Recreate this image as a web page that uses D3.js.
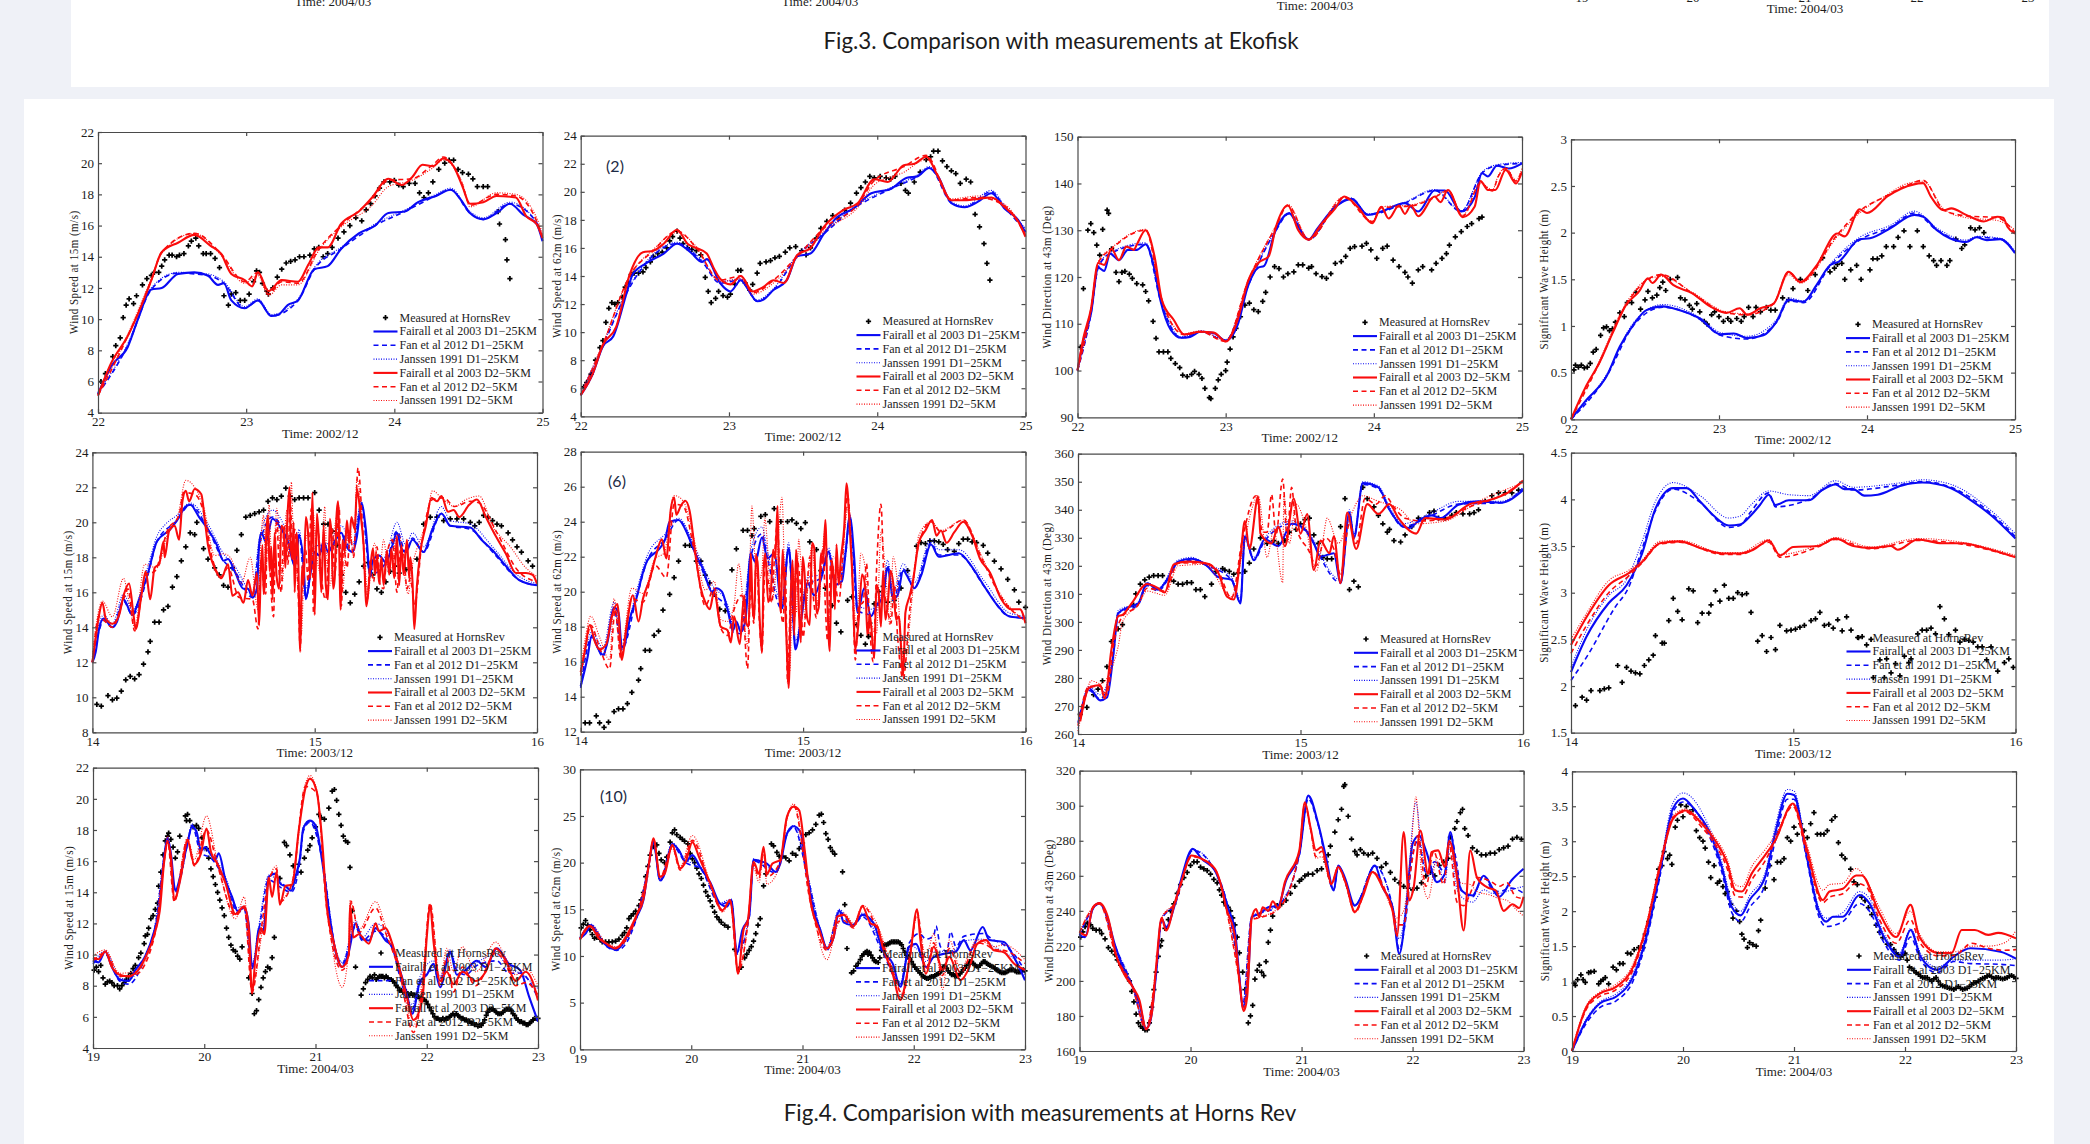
<!DOCTYPE html>
<html>
<head>
<meta charset="utf-8">
<script src="https://cdn.jsdelivr.net/npm/d3@7"></script>
<style>
  body { margin: 0; background: #eff1f7; }
  text { font-family: "Liberation Serif", serif; fill: #1c1c1c; }
  .caption, .tag { font-family: Lato, sans-serif; }
</style>
</head>
<body>
<div id="chart"></div>
<script>
// all series are flat lists: day, value, day, value ...
var legendLabels = ["Measured at HornsRev", "Fairall et al 2003 D1\u221225KM", "Fan et al 2012 D1\u221225KM", "Janssen 1991 D1\u221225KM",
  "Fairall et al 2003 D2\u22125KM", "Fan et al 2012 D2\u22125KM", "Janssen 1991 D2\u22125KM"];

// ---- panel 1, wind speed 15m, 2002/12
var p1Measured = [22.02,6,22.05,6.5,22.1,7.6,22.12,8.3,22.15,8.8,22.17,10.1,22.19,10.9,22.21,11.3,22.24,11,22.26,11.5,22.3,12.2,22.33,12.6,22.36,12.8,22.38,13,22.41,13,22.43,13.4,22.45,13.8,22.48,14.1,22.5,14.1,22.53,14,22.55,14.1,22.58,14.2,22.61,14.7,22.63,15,22.66,15.2,22.68,14.7,22.71,14.2,22.73,14.2,22.76,14.2,22.79,13.9,22.82,13.3,22.85,11.5,22.88,10.9,22.9,11.6,22.93,11.7,22.96,11.2,22.99,11.2,23.02,11.6,23.05,12.4,23.07,13.1,23.09,13,23.11,12.3,23.14,11.8,23.15,11.6,23.18,12,23.21,12.7,23.24,13.2,23.27,13.6,23.3,13.7,23.33,13.8,23.36,14,23.39,14,23.43,14.1,23.46,14.5,23.49,14.6,23.52,14,23.55,14.2,23.58,14.6,23.62,15.2,23.66,15.6,23.7,16,23.74,16.5,23.78,16.3,23.81,17,23.84,17.4,23.87,17.9,23.9,18.4,23.93,18.8,23.97,18.8,24,18.9,24.03,18.6,24.06,18.5,24.1,18.7,24.14,18.7,24.17,18.1,24.2,17.8,24.23,18.1,24.26,18.8,24.3,19.6,24.34,20,24.37,20.2,24.4,20.2,24.43,19.6,24.46,19.4,24.5,19.3,24.53,19,24.56,18.5,24.6,18.5,24.63,18.5,24.7,16.9,24.71,16.1,24.75,15.1,24.76,13.8,24.78,12.6];
var p1BlueSolid = [22,5.2,22.09,7,22.2,8.2,22.27,10,22.36,11.9,22.43,12,22.54,12.9,22.65,13,22.74,12.8,22.81,12.2,22.85,12.3,22.9,11.2,22.99,10.7,23.08,11.2,23.17,10.2,23.22,10.3,23.28,10.9,23.35,11.2,23.46,13.2,23.55,13.4,23.64,14.5,23.76,15.5,23.87,16,23.96,16.8,24.07,16.9,24.16,17.5,24.28,17.9,24.38,18.3,24.46,17.5,24.51,16.8,24.6,16.4,24.69,16.8,24.78,17.4,24.87,16.7,24.96,16.1,25,15];
var p1BlueDash = [22,5.2,22.2,8.3,22.36,11.9,22.54,12.95,22.74,12.8,22.85,12.3,22.99,10.7,23.08,11.2,23.17,10.2,23.35,11.2,23.46,13.2,23.64,14.5,23.87,16,24.07,16.9,24.28,17.9,24.38,18.3,24.51,16.8,24.6,16.4,24.78,17.4,24.96,16.2,25,15.1];
var p1BlueDot = [22,5.3,22.2,8.4,22.36,12,22.54,13,22.74,12.9,22.85,12.4,22.99,10.8,23.08,11.3,23.17,10.3,23.35,11.3,23.46,13.3,23.64,14.6,23.87,16.1,24.07,17,24.28,18,24.38,18.4,24.51,16.9,24.6,16.5,24.78,17.5,24.96,16.2,25,15.1];
var p1RedSolid = [22,5.1,22.09,7.2,22.2,8.9,22.29,10.8,22.36,12.5,22.43,14.3,22.54,14.9,22.65,15.4,22.76,14.7,22.83,14.2,22.9,12.9,22.99,12.5,23.04,12.1,23.08,13,23.15,11.8,23.24,12.5,23.35,12.4,23.42,13.5,23.49,14.6,23.55,14.6,23.64,16.1,23.76,16.9,23.85,17.8,23.96,19,24.05,18.6,24.12,19.1,24.19,19.9,24.26,19.8,24.33,20.3,24.4,19.8,24.46,18.5,24.51,17.4,24.6,17.5,24.69,17.9,24.82,17.8,24.89,16.6,24.96,16.1,25,15.2];
var p1RedDash = [22,5.1,22.2,8.9,22.36,12.5,22.43,14.3,22.65,15.5,22.83,14.2,22.99,12.4,23.08,13,23.15,11.6,23.24,12.4,23.35,12.3,23.49,14.5,23.64,16,23.85,17.7,23.96,18.9,24.12,19,24.26,19.9,24.33,20.4,24.46,18.6,24.51,17.3,24.69,18,24.82,17.9,24.96,16.3,25,15.3];
var p1RedDot = [22,5.2,22.2,9,22.36,12.6,22.43,14.2,22.65,15.5,22.83,14.1,22.99,12.3,23.08,12.8,23.15,11.5,23.24,12.2,23.35,12.2,23.49,14.4,23.64,15.9,23.85,17.3,23.96,18.5,24.12,18.9,24.26,19.7,24.33,20.2,24.46,18.7,24.51,17.2,24.69,18.1,24.82,18,24.96,16.5,25,15.5];

// ---- panel 2, wind speed 62m, 2002/12
var p2Measured = [22.02,6.1,22.04,6.4,22.07,7,22.1,8,22.13,8.9,22.15,9.4,22.17,10.7,22.19,11.7,22.21,12.1,22.23,12,22.25,12.1,22.28,12.5,22.3,13.2,22.32,13.5,22.34,14.1,22.36,14.2,22.39,14.2,22.42,14.3,22.44,14.6,22.47,15,22.49,15.4,22.52,15.6,22.55,15.7,22.58,16,22.6,16.5,22.62,16.8,22.65,17.2,22.67,16.7,22.69,16.3,22.72,16,22.75,15.9,22.78,15.8,22.81,15.5,22.84,13.9,22.86,12.9,22.88,12.1,22.91,12.4,22.93,12.9,22.96,12.6,22.99,12.5,23.01,12.7,23.04,13.4,23.06,14.4,23.08,14.4,23.11,13.5,23.14,13,23.16,13.4,23.19,14.2,23.21,14.9,23.25,15,23.28,15.1,23.31,15.3,23.34,15.4,23.38,15.7,23.41,16,23.45,16.1,23.49,15.8,23.52,15.5,23.55,16,23.59,16.7,23.62,17.4,23.66,17.9,23.7,18.3,23.74,18.1,23.78,18.7,23.82,19.2,23.86,19.9,23.89,20.3,23.92,20.7,23.95,21.1,23.98,21,24.02,21.1,24.06,21,24.09,20.9,24.12,21.1,24.16,20.6,24.19,20.1,24.21,19.9,24.25,20.7,24.29,21.4,24.33,22.3,24.36,22.5,24.38,22.9,24.41,22.9,24.44,22.2,24.47,21.8,24.5,21.5,24.53,21.3,24.56,20.6,24.6,20.9,24.63,20.7,24.66,18.4,24.69,17.5,24.72,16.3,24.74,14.9,24.76,13.7];
var p2BlueSolid = [22,5.5,22.08,7,22.15,9,22.22,9.7,22.31,12.8,22.35,14.1,22.44,14.9,22.56,15.6,22.65,16.3,22.74,15.7,22.82,15,22.85,15.2,22.94,13.5,23.01,12.9,23.08,13.7,23.12,13.2,23.19,12.2,23.23,12.3,23.3,13,23.39,13.7,23.46,15.4,23.55,15.6,23.64,17,23.73,18.2,23.84,18.8,23.96,19.9,24.09,20.2,24.2,21,24.27,21.1,24.35,21.7,24.41,21.1,24.5,19.2,24.59,18.9,24.68,19.3,24.77,19.9,24.86,18.8,24.95,18,25,17.1];
var p2BlueDash = [22,5.5,22.15,9,22.31,12.8,22.44,14.9,22.65,16.3,22.82,15,22.94,13.5,23.08,13.7,23.19,12.2,23.3,13,23.46,15.4,23.64,17,23.84,18.8,24.09,20.2,24.27,21.1,24.35,21.7,24.5,19.2,24.59,18.9,24.77,20,24.86,18.9,25,17.2];
var p2BlueDot = [22,5.6,22.15,9.1,22.31,12.9,22.44,15,22.65,16.4,22.82,15.1,22.94,13.6,23.08,13.8,23.19,12.3,23.3,13.1,23.46,15.5,23.64,17.1,23.84,18.9,24.09,20.3,24.27,21.2,24.35,21.8,24.5,19.3,24.59,19,24.77,20.1,24.86,19,25,17.4];
var p2RedSolid = [22,5.5,22.08,7,22.15,9.1,22.24,10.4,22.33,14.1,22.42,15.7,22.49,15.8,22.56,16.3,22.65,17.3,22.72,16.3,22.78,16,22.85,15.6,22.9,14.5,22.94,13.8,23.01,13.4,23.08,14,23.16,12.9,23.23,13.2,23.3,13.7,23.37,13.5,23.46,15.5,23.55,16,23.64,17.5,23.77,18.7,23.87,19.2,23.98,20.9,24.07,20.7,24.18,21.9,24.25,22,24.33,22.5,24.41,21.1,24.5,19.4,24.57,19.4,24.68,19.5,24.77,19.6,24.86,18.9,24.95,17.9,25,16.8];
var p2RedDash = [22,5.5,22.15,9.1,22.33,14,22.49,15.8,22.65,17.2,22.78,16,22.94,13.7,23.08,14,23.16,12.8,23.3,13.7,23.46,15.4,23.64,17.4,23.87,19.1,23.98,20.8,24.18,21.8,24.33,22.6,24.5,19.4,24.68,19.6,24.86,19,25,16.9];
var p2RedDot = [22,5.6,22.15,9.2,22.33,14,22.49,15.9,22.65,17.1,22.78,16.1,22.94,13.6,23.08,13.8,23.16,12.7,23.3,13.5,23.46,15.3,23.64,17.2,23.87,18.9,23.98,20.5,24.18,21.4,24.33,22.3,24.5,19.5,24.68,19.7,24.86,19.1,25,17];

// ---- panel 3, wind direction 43m, 2002/12
var p3Measured = [22.02,105,22.04,117.5,22.07,130,22.09,131.4,22.11,129.5,22.13,126.8,22.15,124.7,22.17,130.2,22.2,134.3,22.21,133.6,22.23,126,22.26,121,22.28,119,22.3,121,22.32,121.2,22.35,120.6,22.37,119.7,22.4,118.6,22.44,118.3,22.46,116.9,22.48,114.9,22.51,110.5,22.53,106.9,22.55,104,22.58,104,22.61,104,22.63,102.6,22.66,101.5,22.69,100.6,22.71,99,22.74,98.7,22.77,99.2,22.79,99.8,22.82,99.2,22.84,98.3,22.86,96.2,22.89,94.2,22.9,94,22.93,96.2,22.95,98,22.97,99.2,23,100,23.01,101.8,23.03,104.6,23.05,107.2,23.07,109,23.1,111.5,23.13,114,23.16,114.4,23.19,113,23.22,112.6,23.25,114.8,23.27,116.7,23.3,120,23.33,122.2,23.36,121.8,23.39,120,23.42,120.7,23.46,121.1,23.49,122.6,23.52,122.6,23.56,121.9,23.58,122.2,23.61,120.7,23.65,120.1,23.68,119.7,23.71,120.7,23.74,122.9,23.78,123.3,23.81,124.4,23.84,126.1,23.87,126.5,23.92,126.6,23.95,127.2,23.98,125.8,24.02,124,24.06,126.1,24.09,126.6,24.13,123.6,24.17,122.2,24.21,121,24.23,120,24.26,118.7,24.3,121.5,24.33,122.2,24.39,121.5,24.42,122.9,24.46,124,24.49,125,24.51,126.8,24.55,128.6,24.59,129.7,24.63,130.8,24.66,131.4,24.71,132.5,24.73,132.8];
var p3BlueSolid = [22,100,22.04,106.5,22.09,112,22.14,122,22.18,121.3,22.22,125,22.28,123.6,22.34,125.8,22.4,125.8,22.46,127,22.51,123,22.56,115,22.63,108.7,22.7,107,22.76,107.2,22.83,108.3,22.92,108,23,106.4,23.08,109.7,23.15,118,23.22,122,23.26,122.4,23.33,129.4,23.43,133.6,23.49,130.7,23.56,128,23.62,130.4,23.74,135,23.85,136.7,23.96,133.3,24.05,134,24.21,135.8,24.3,134,24.41,138.5,24.48,138.5,24.59,134,24.68,137,24.73,142.2,24.77,141.5,24.83,143.8,24.91,143.2,25,144.3];
var p3BlueDash = [22,100,22.09,112,22.14,122,22.22,125,22.46,127,22.56,115,22.7,107,22.83,108.3,23,106.4,23.15,118,23.33,129.4,23.43,133.6,23.56,128,23.74,135,23.85,136.7,23.96,133.3,24.21,135.8,24.41,138.5,24.59,134,24.73,142.2,24.83,143.8,25,144.3];
var p3BlueDot = [22,100.2,22.09,112.2,22.14,122.2,22.22,125.2,22.46,127.3,22.56,115.3,22.7,107.2,22.83,108.5,23,106.6,23.15,118.2,23.33,129.6,23.43,133.8,23.56,128.2,23.74,135.2,23.85,136.9,23.96,133.5,24.21,136,24.41,138.7,24.59,134.2,24.73,142.4,24.83,144,25,144.5];
var p3RedSolid = [22,100,22.04,107,22.09,113,22.14,123,22.18,122.6,22.23,126,22.28,123.6,22.33,126.5,22.38,125.8,22.4,126.9,22.46,130,22.52,124.4,22.57,115,22.65,110.8,22.72,107.7,22.83,108.3,22.92,108.1,23,106.2,23.08,110.8,23.15,119,23.22,123,23.29,124.4,23.34,130.8,23.42,135.3,23.49,130,23.56,128,23.65,131.5,23.74,134.7,23.8,137.2,23.89,135,23.99,131.5,24.05,135,24.1,132.5,24.17,135.3,24.21,133.5,24.25,135.3,24.3,133,24.41,137.2,24.45,136,24.5,138.6,24.6,132.8,24.68,135,24.72,140.5,24.77,138.6,24.82,138.6,24.89,142.9,24.96,140,25,142.5];
var p3RedDash = [22,100,22.09,113,22.14,123,22.23,126,22.46,130,22.57,115,22.72,107.7,22.83,108.3,23,106.2,23.15,119,23.34,130.8,23.42,135.3,23.56,128,23.8,137,23.99,131.8,24.05,134.8,24.25,135.2,24.41,137,24.5,138.4,24.6,133,24.72,140,24.8,138.4,24.84,141.5,24.89,143.2,24.96,140.5,25,143];
var p3RedDot = [22,100.3,22.09,113.2,22.14,123.2,22.23,126.2,22.46,130.2,22.57,115.2,22.72,107.9,22.83,108.5,23,106.4,23.15,119.2,23.34,131,23.42,135.5,23.56,128.2,23.8,137.2,23.99,132,24.05,135,24.25,135.4,24.41,137.2,24.5,138.6,24.6,133.2,24.72,140.2,24.8,138.6,24.84,141.7,24.89,143.4,24.96,140.7,25,143.2];

// ---- panel 4, wave height, 2002/12
var p4Measured = [22.02,.53,22.03,.58,22.05,.56,22.07,.58,22.09,.55,22.11,.56,22.13,.6,22.15,.72,22.17,.75,22.2,.9,22.22,.98,22.24,.99,22.26,.95,22.28,.97,22.3,1.04,22.33,1.14,22.36,1.1,22.38,1.25,22.41,1.25,22.44,1.36,22.47,1.18,22.5,1.28,22.52,1.37,22.55,1.3,22.58,1.33,22.6,1.41,22.62,1.47,22.64,1.38,22.67,1.5,22.72,1.52,22.74,1.3,22.77,1.28,22.8,1.22,22.82,1.18,22.85,1.24,22.87,1.15,22.9,1.05,22.92,1.02,22.95,1.12,22.97,1.15,23,1.1,23.03,1.05,23.06,1.08,23.08,1.05,23.12,1.08,23.15,1.05,23.17,1.1,23.2,1.2,23.23,1.1,23.25,1.2,23.28,1.15,23.32,1.2,23.35,1.17,23.38,1.17,23.43,1.3,23.47,1.28,23.5,1.4,23.55,1.5,23.6,1.38,23.65,1.55,23.7,1.73,23.75,1.58,23.78,1.62,23.8,1.66,23.83,1.67,23.85,1.5,23.89,1.6,23.93,1.65,23.96,1.5,24.02,1.6,24.04,1.72,24.07,1.72,24.1,1.75,24.13,1.85,24.18,1.85,24.21,1.95,24.25,2.02,24.29,1.85,24.34,2.02,24.38,1.85,24.42,1.75,24.45,1.7,24.47,1.65,24.5,1.7,24.54,1.65,24.56,1.7,24.6,1.93,24.64,1.83,24.66,1.87,24.7,2.05,24.73,2.03,24.76,2.05,24.79,2];
var p4BlueSolid = [22,0,22.1,.2,22.24,.46,22.33,.78,22.42,1.01,22.51,1.17,22.62,1.21,22.73,1.17,22.87,1.08,23.01,.91,23.1,.92,23.19,.87,23.3,.9,23.39,1.05,23.47,1.28,23.57,1.26,23.66,1.44,23.75,1.65,23.81,1.69,23.95,1.93,24.02,1.94,24.16,2.05,24.32,2.19,24.38,2.17,24.47,2.03,24.56,1.94,24.67,1.9,24.74,1.95,24.81,1.92,24.9,1.93,25,1.78];
var p4BlueDash = [22,0,22.24,.46,22.42,1,22.62,1.2,22.87,1.07,23.01,.9,23.19,.86,23.39,1.04,23.47,1.27,23.57,1.25,23.75,1.64,23.95,1.92,24.16,2.06,24.32,2.21,24.47,2.03,24.67,1.9,24.74,1.95,24.9,1.93,25,1.79];
var p4BlueDot = [22,.01,22.24,.48,22.42,1.03,22.62,1.23,22.87,1.09,23.01,.93,23.19,.89,23.39,1.07,23.47,1.3,23.57,1.27,23.75,1.66,23.95,1.95,24.16,2.08,24.32,2.23,24.47,2.05,24.67,1.92,24.74,1.96,24.9,1.94,25,1.8];
var p4RedSolid = [22,0,22.1,.35,22.19,.6,22.28,.92,22.37,1.22,22.46,1.37,22.52,1.51,22.55,1.46,22.61,1.55,22.69,1.44,22.82,1.35,22.94,1.21,23.05,1.14,23.14,1.19,23.19,1.12,23.28,1.19,23.37,1.24,23.47,1.58,23.55,1.47,23.66,1.65,23.8,1.99,23.85,1.96,23.95,2.25,24,2.21,24.14,2.39,24.23,2.47,24.38,2.53,24.43,2.39,24.52,2.24,24.57,2.26,24.67,2.19,24.79,2.12,24.88,2.17,24.92,2.16,24.95,2.06,25,1.99];
var p4RedDash = [22,0,22.19,.6,22.37,1.22,22.52,1.5,22.61,1.55,22.82,1.35,23.05,1.14,23.19,1.12,23.37,1.24,23.47,1.58,23.55,1.47,23.8,1.98,23.95,2.23,24.14,2.4,24.26,2.5,24.38,2.56,24.52,2.24,24.67,2.18,24.88,2.16,25,2];
var p4RedDot = [22,.01,22.19,.62,22.37,1.24,22.52,1.5,22.61,1.53,22.82,1.36,23.05,1.15,23.19,1.13,23.37,1.25,23.47,1.55,23.55,1.46,23.8,1.96,23.95,2.21,24.14,2.41,24.26,2.52,24.38,2.55,24.52,2.25,24.67,2.16,24.88,2.13,25,2.03];

// ---- panel 5, wind speed 15m, 2003/12
var p5Measured = [14.02,9.6,14.04,9.5,14.07,10.1,14.09,9.85,14.11,9.95,14.13,10.35,14.15,11,14.17,11.2,14.19,11.05,14.21,11.3,14.23,11.9,14.25,12.6,14.26,13.2,14.28,14.3,14.3,14.3,14.32,15,14.34,15.2,14.36,16.3,14.38,16.9,14.4,17.8,14.42,18.6,14.44,19.4,14.46,19.3,14.47,20,14.5,18.5,14.52,17.9,14.55,17.4,14.57,17,14.59,16.4,14.61,16.3,14.63,17.4,14.65,18.4,14.67,19.3,14.69,20.3,14.71,20.4,14.73,20.5,14.75,20.6,14.77,20.7,14.79,21.2,14.81,21.4,14.83,21.3,14.85,21.5,14.87,21.95,14.89,21.5,14.91,21.3,14.93,21.4,14.95,21.4,14.97,21.4,15,21.7,15.02,20.7,15.04,19.9,15.06,19.9,15.08,19.5,15.1,18.7,15.12,17,15.14,16,15.16,15.4,15.18,15.9,15.2,16.6,15.22,17.5,15.24,17.7,15.26,17,15.28,16.2,15.3,16,15.32,16.6,15.34,17.2,15.36,17.5,15.38,17.1,15.41,17.3,15.43,17.4,15.46,17.9,15.49,19.9,15.52,20.3,15.55,20.3,15.58,20.1,15.61,20.2,15.64,20.2,15.67,20.2,15.7,20,15.72,19.8,15.74,20,15.76,20.4,15.78,20.3,15.8,20.1,15.82,19.9,15.84,19.8,15.87,19.4,15.89,19,15.91,18.6,15.93,18.3,15.96,17.8,15.98,17.5];
var p5BlueSolid = [14,12,14.015,12.6,14.03,13.9,14.05,14.5,14.09,14,14.11,14.3,14.14,15.6,14.18,14.7,14.21,15.6,14.25,17.1,14.29,18.9,14.35,19.6,14.38,20.1,14.42,20.9,14.44,21,14.48,20.3,14.52,19.6,14.56,18.7,14.59,17.8,14.61,17.9,14.64,17.2,14.68,16.2,14.7,16.2,14.72,15.7,14.74,16.2,14.75,18.7,14.76,19.4,14.78,18.9,14.81,20.2,14.85,19.6,14.88,18.9,14.91,17.5,14.93,19.2,14.95,17.6,14.96,15.6,14.98,17,15,18.3,15.02,18.1,15.04,18.9,15.06,18.3,15.09,18.9,15.12,19.4,15.14,18.7,15.17,18.3,15.19,19.2,15.21,21.1,15.23,19.6,15.25,16.9,15.26,17.8,15.29,18.1,15.32,17.7,15.35,18.7,15.37,19.4,15.39,18.5,15.41,18.3,15.44,19,15.49,18.3,15.53,19.6,15.57,20.5,15.61,19.8,15.7,19.7,15.75,19,15.8,18.4,15.86,17.5,15.92,16.7,16,16.4];
var p5BlueDash = [14,12,14.03,13.8,14.05,14.4,14.09,14,14.14,15.5,14.18,14.7,14.25,17,14.29,18.9,14.38,20.1,14.44,21,14.52,19.6,14.59,17.8,14.64,17.2,14.72,15.7,14.75,18.6,14.81,20.3,14.88,18.8,14.91,17.6,14.93,19.3,14.96,15.7,15,18.3,15.06,18.4,15.12,19.4,15.17,18.3,15.21,21,15.25,17,15.32,17.7,15.37,19.5,15.41,18.3,15.44,19.1,15.49,18.3,15.57,20.5,15.61,19.8,15.7,19.6,15.8,18.3,15.92,16.7,16,16.4];
var p5BlueDot = [14,12.1,14.03,14.2,14.05,14.7,14.09,14.2,14.14,15.9,14.18,15,14.25,17.5,14.29,19.2,14.33,19.9,14.38,20.4,14.44,21.1,14.52,19.9,14.59,18.2,14.64,17.5,14.72,16,14.75,19,14.81,20.7,14.88,19.2,14.91,18,14.93,19.6,14.96,16.2,15,18.6,15.06,18.8,15.12,19.8,15.17,18.7,15.21,21.2,15.25,17.3,15.32,18.1,15.37,20,15.41,18.7,15.44,19.4,15.49,18.6,15.57,20.9,15.61,20.1,15.7,19.9,15.8,18.6,15.92,16.9,16,16.5];
var p5RedSolid = [14,12,14.015,13.4,14.03,14.7,14.045,15.4,14.06,14.5,14.09,14.2,14.12,14.7,14.14,15.8,14.165,16.5,14.185,14.7,14.195,13.9,14.22,15.8,14.24,17.2,14.26,15.6,14.28,17.4,14.3,17.6,14.32,18.9,14.325,18,14.345,19.5,14.37,19.8,14.39,19,14.405,21.2,14.42,21.8,14.435,21.2,14.46,21.9,14.49,21.6,14.505,20.2,14.52,18.7,14.54,17.7,14.565,17,14.58,16.8,14.61,17.6,14.63,15.8,14.655,16,14.68,15.4,14.7,16.7,14.72,15.8,14.74,17.1,14.75,14.1,14.757,17,14.765,18.7,14.77,15.9,14.775,16.4,14.783,19.6,14.79,20.4,14.797,17.2,14.805,18.6,14.81,15.6,14.82,19.4,14.828,17,14.84,16.2,14.85,19.8,14.86,19.6,14.868,17.4,14.877,20.2,14.887,22,14.893,18.5,14.9,17.9,14.905,20,14.91,16,14.918,19.4,14.925,18.3,14.935,12.6,14.943,17.5,14.95,16.4,14.96,20.3,14.97,19.4,14.98,16.8,14.99,21.7,15,14.7,15.01,20.5,15.02,18.7,15.03,16,15.04,19.8,15.05,16.4,15.06,15.6,15.068,20.2,15.075,19.4,15.083,16.2,15.09,16.8,15.098,20.3,15.105,21.2,15.117,15,15.125,19,15.135,18.3,15.145,20.1,15.155,18.8,15.165,20.3,15.18,19.6,15.19,21.9,15.205,20.6,15.22,18.7,15.233,15.2,15.25,17.4,15.262,18.5,15.272,17,15.28,18.1,15.29,16.5,15.3,18,15.31,16.4,15.325,18.4,15.335,17,15.345,18.5,15.358,16.8,15.37,19.2,15.38,16.4,15.39,18.7,15.4,17,15.415,19,15.425,16.8,15.43,18,15.44,16.6,15.448,13.9,15.46,16.4,15.475,18.3,15.5,19.8,15.525,21.4,15.55,21.2,15.57,21.5,15.6,20.6,15.625,20.7,15.65,20.3,15.695,21,15.73,21.3,15.77,20.3,15.815,19.2,15.86,18.2,15.905,17.1,15.95,17.1,15.98,17,16,16.5];
var p5RedDash = [14,12,14.03,14.6,14.06,14.3,14.09,14,14.14,15.6,14.16,16.2,14.19,13.8,14.24,17,14.28,17.2,14.34,19.6,14.39,20.4,14.41,21.7,14.46,21.6,14.5,20.6,14.54,17.9,14.58,16.9,14.61,17.4,14.66,15.7,14.72,15.6,14.745,13.9,14.755,17,14.76,18,14.77,16.4,14.78,15.9,14.785,19,14.79,20.1,14.8,17,14.815,14.6,14.822,18.6,14.83,20,14.84,17.2,14.85,16,14.86,19.4,14.87,19.8,14.88,17.6,14.89,21.4,14.9,18.2,14.91,19.6,14.925,16.2,14.935,12.8,14.945,17,14.96,18.4,14.97,16.6,14.985,20.8,14.995,14.8,15.01,19.8,15.02,19,15.03,17,15.04,15.9,15.05,15.6,15.065,18.8,15.08,19.6,15.09,17,15.11,20.9,15.12,15.2,15.13,18.6,15.145,17.4,15.16,19.2,15.175,18,15.195,23.1,15.215,19.8,15.235,15.4,15.25,17.8,15.265,16.6,15.28,18.6,15.295,16.4,15.31,16.2,15.325,18.2,15.35,19,15.37,16,15.385,18.4,15.4,18.2,15.415,16.2,15.43,16.8,15.45,15.3,15.48,18.6,15.53,21.3,15.58,21.4,15.63,20.9,15.7,21.2,15.74,21.1,15.82,19.4,15.91,17.3,16,16.6];
var p5RedDot = [14,12.3,14.02,14.4,14.045,15.5,14.09,14.6,14.14,16.8,14.16,15.8,14.19,14,14.235,17.6,14.29,17.4,14.34,19.4,14.385,20.4,14.42,22.4,14.46,22,14.5,20.9,14.55,18.1,14.59,18.2,14.62,18,14.67,16.5,14.71,18,14.745,15,14.755,18.2,14.77,20.4,14.78,17.2,14.795,21,14.81,16,14.82,19,14.83,20.8,14.845,18.2,14.855,16.6,14.865,19.4,14.875,20.7,14.885,18,14.895,22.3,14.905,18.6,14.92,17,14.94,13.6,14.955,18.4,14.97,19.4,14.98,17.2,14.99,20.8,15.01,18,15.03,17,15.045,20.9,15.055,17.6,15.07,16.4,15.085,19,15.1,20.4,15.125,16,15.14,18.4,15.16,19.6,15.175,18,15.19,22.5,15.22,18.8,15.24,15.8,15.255,17.8,15.27,18.8,15.29,17,15.31,19,15.33,17.4,15.35,17.4,15.365,19.2,15.38,19.3,15.4,17.4,15.42,15.9,15.44,17.6,15.455,18.3,15.5,20,15.53,21.8,15.57,21.4,15.63,20.9,15.68,21.3,15.74,21.5,15.8,19.8,15.88,18.6,15.95,17.4,16,16.9];

// ---- panel 6, wind speed 62m, 2003/12
var p6Measured = [14.02,12.5,14.04,12.5,14.07,12.9,14.085,12.5,14.105,12.25,14.125,12.55,14.15,13.15,14.17,13.3,14.19,13.3,14.21,13.6,14.23,14.25,14.26,14.95,14.27,15.6,14.29,16.65,14.31,16.65,14.33,17.5,14.35,17.75,14.37,18.95,14.4,19.85,14.42,20.8,14.44,21.75,14.47,22.65,14.49,22.65,14.5,22.65,14.52,21.75,14.54,21.75,14.56,20.95,14.58,20.5,14.6,19.85,14.625,19,14.65,18.9,14.68,21.25,14.7,22.45,14.73,23.5,14.75,23.5,14.77,23.2,14.78,23.6,14.81,24.3,14.83,24.4,14.85,24,14.87,24.75,14.9,24,14.93,24,14.95,24.1,14.97,23.9,14.99,23.6,15.01,23.95,15.03,22.85,15.06,22.4,15.08,21.2,15.1,20.2,15.13,19.2,15.15,18.2,15.17,17.7,15.2,19.5,15.22,19.7,15.24,18.1,15.26,17.5,15.28,17,15.3,18.2,15.32,19.3,15.34,20,15.36,20.3,15.38,19.4,15.41,19.5,15.44,20.2,15.47,21.2,15.51,22.6,15.53,22.8,15.55,22.75,15.57,22.9,15.59,22.9,15.61,22.85,15.63,22.7,15.65,22.4,15.68,22.3,15.7,22.75,15.72,23,15.74,23,15.76,22.85,15.78,22.8,15.81,22.65,15.83,22.2,15.86,21.75,15.89,21.3,15.92,20.7,15.95,20.1,15.97,19.4,16,19.1];
var p6BlueSolid = [14,14.6,14.03,16.2,14.05,17.5,14.08,16.7,14.1,16.4,14.12,17.1,14.15,19.1,14.17,18.8,14.185,16.8,14.2,17.1,14.22,18.4,14.25,19.6,14.28,21.1,14.3,21.8,14.35,22.4,14.38,23,14.4,24,14.44,24.1,14.48,23.3,14.515,22.2,14.55,21.3,14.59,20,14.61,20.2,14.635,20,14.66,19,14.685,17.8,14.7,18.3,14.72,17.7,14.74,18.3,14.765,22.2,14.785,21.7,14.815,23.1,14.84,21.9,14.87,22.2,14.905,19.1,14.935,22.5,14.95,20.3,14.965,16.7,14.99,18.3,15.02,20.5,15.05,19.8,15.08,20.7,15.115,22.3,15.145,20.4,15.175,20.6,15.19,22.1,15.21,24.3,15.23,21.9,15.245,18.8,15.275,20.2,15.305,18.6,15.33,19.2,15.36,19.8,15.38,21.4,15.405,19.6,15.425,19.8,15.45,21.2,15.48,20.6,15.5,20.2,15.53,20.9,15.575,22.7,15.61,22,15.7,22.2,15.76,21.4,15.815,20.3,15.875,19.2,15.925,18.6,16,18.5];
var p6BlueDash = [14,14.5,14.05,17.4,14.1,16.3,14.15,19,14.185,16.7,14.25,19.6,14.3,21.8,14.38,23,14.44,24.1,14.515,22.2,14.59,20,14.66,19,14.685,17.7,14.72,17.6,14.765,22,14.815,23.3,14.84,21.9,14.905,19,14.935,22.4,14.965,16.9,15.02,20.4,15.08,20.8,15.115,22.2,15.145,20.3,15.19,22,15.21,24.2,15.245,18.9,15.305,18.7,15.36,20,15.38,21.5,15.405,19.5,15.45,21.3,15.5,20.2,15.575,22.8,15.61,22.1,15.7,22.1,15.815,20.3,15.925,18.6,16,18.5];
var p6BlueDot = [14,14.7,14.05,17.7,14.1,16.8,14.15,19.4,14.185,17.2,14.25,20,14.3,22.1,14.38,23.3,14.44,24.2,14.515,22.5,14.59,20.4,14.66,19.3,14.685,18.1,14.72,18,14.765,22.4,14.815,23.7,14.84,22.3,14.905,19.4,14.935,22.8,14.965,17.2,15.02,20.8,15.08,21,15.115,22.5,15.145,20.7,15.19,22.4,15.21,24.4,15.245,19.2,15.305,19,15.36,20.3,15.38,21.8,15.405,20,15.45,21.6,15.5,20.5,15.575,23,15.61,22.4,15.7,22.4,15.815,20.6,15.925,18.8,16,18.6];
var p6RedSolid = [14,15.4,14.02,16.7,14.04,18.1,14.065,17.1,14.085,16.7,14.115,17,14.14,18.6,14.165,19.3,14.185,16.1,14.205,17.9,14.235,19.8,14.26,18.3,14.28,19.6,14.31,20.7,14.335,21.9,14.365,23,14.385,21.9,14.405,24.7,14.42,25.4,14.43,24.4,14.45,24.9,14.47,25.2,14.49,24.6,14.515,22.2,14.54,20.2,14.56,19.4,14.58,19,14.6,20,14.63,18,14.66,17.8,14.675,17.1,14.69,18.6,14.715,17,14.735,19.8,14.745,18.2,14.755,18,14.765,22.2,14.772,19.4,14.78,18.4,14.788,22,14.795,21.7,14.805,18.4,14.815,16.5,14.823,21.4,14.83,22.2,14.843,19.4,14.855,20,14.865,22.4,14.875,21.9,14.885,24.9,14.893,20,14.9,18.8,14.908,22.4,14.915,20.7,14.925,17.4,14.935,14.5,14.945,20,14.953,21.8,14.96,17.5,14.968,22.4,14.975,21.3,14.982,18.6,14.99,17.1,14.998,22,15.005,21.3,15.017,18.6,15.03,18.1,15.04,22.8,15.05,22.5,15.06,18.8,15.07,19.1,15.08,22.2,15.09,21.6,15.1,24.1,15.11,19.2,15.12,16.6,15.128,21.8,15.135,21.1,15.143,19,15.15,22.7,15.16,20.4,15.17,21.9,15.185,23.7,15.195,26.2,15.21,23.6,15.22,21.3,15.235,16.7,15.25,18.4,15.265,21,15.28,20.2,15.29,17.4,15.3,18.7,15.32,16.2,15.33,20.4,15.34,19.9,15.35,18,15.36,21.2,15.37,18.4,15.38,19.2,15.393,21.2,15.405,20.5,15.418,18.4,15.43,18.6,15.45,15.2,15.46,18.8,15.48,19.8,15.495,20.7,15.52,22.8,15.55,23.5,15.58,24.1,15.6,23.2,15.62,23.5,15.645,22.8,15.68,23.4,15.72,24,15.76,23.2,15.795,21.9,15.84,21.1,15.89,19.6,15.935,19,15.975,19,16,18.2];
var p6RedDash = [14,15.2,14.03,17.4,14.045,18.1,14.085,16.8,14.13,15.6,14.155,19,14.18,16.2,14.23,19.6,14.28,19.4,14.335,21.5,14.385,20.8,14.42,25,14.46,24.9,14.51,22.4,14.56,19.2,14.6,20.2,14.63,17.9,14.66,17.5,14.69,19,14.725,19.8,14.75,15.6,14.765,20.4,14.778,18.2,14.79,22.2,14.803,18.4,14.815,16.6,14.83,22,14.845,20.4,14.86,19.4,14.872,22.2,14.885,23.9,14.898,19.4,14.91,18.2,14.92,21.4,14.93,14.8,14.945,19.8,14.96,18.3,14.973,21.8,14.985,20.8,15,17.4,15.015,19.6,15.03,22,15.045,19.8,15.06,18.5,15.075,20.4,15.09,22.5,15.1,19.2,15.11,17.2,15.125,21.8,15.14,21,15.16,19.4,15.185,23.4,15.2,25.5,15.22,21.4,15.235,16.1,15.25,19.2,15.27,19.4,15.285,21.6,15.3,17.9,15.315,16,15.33,21.2,15.35,25,15.365,20.2,15.38,19,15.395,18.2,15.41,20.4,15.425,17.4,15.45,15,15.48,19,15.52,22.7,15.575,24,15.62,23.4,15.72,24.1,15.8,22,15.89,19.7,16,18.3];
var p6RedDot = [14,15.6,14.02,17.3,14.045,18.6,14.085,17.4,14.13,16.1,14.15,19.6,14.18,16.6,14.23,20.2,14.28,19.9,14.335,21.9,14.375,22.2,14.42,25.5,14.46,25.2,14.51,23,14.56,20.1,14.6,20.6,14.63,18.4,14.66,18.3,14.69,19.3,14.71,21.6,14.75,16.9,14.77,24.9,14.785,21.6,14.8,20.6,14.815,21.2,14.828,24.2,14.84,22.6,14.855,19.4,14.87,20.1,14.887,22.8,14.905,25.4,14.92,19.1,14.94,15.4,14.955,21.4,14.97,18.8,14.98,23,14.99,21.7,15.01,18.4,15.025,21,15.04,22.7,15.055,20.4,15.07,19.2,15.085,22,15.1,23.6,15.115,17.9,15.135,22,15.15,21.8,15.17,20.4,15.19,23.9,15.205,25,15.225,20,15.24,18,15.26,22.2,15.28,21.3,15.295,18.8,15.31,18,15.33,17.6,15.35,23.4,15.37,21.2,15.39,18.1,15.405,22,15.42,21,15.44,17.3,15.455,15.8,15.49,19.6,15.52,23.2,15.575,24,15.62,23.5,15.72,24.1,15.8,22.1,15.89,19.8,16,18.3];

// ---- panel 7, wind direction 43m, 2003/12
var p7Measured = [14.01,267,14.04,269.5,14.07,274,14.09,276,14.11,279,14.13,284,14.15,293,14.18,297.5,14.2,299,14.25,306,14.26,310,14.28,313.5,14.3,315,14.32,316,14.34,316.5,14.36,316.5,14.38,316.5,14.41,315,14.43,314.5,14.45,313.5,14.47,313.5,14.49,314,14.51,314,14.53,311.5,14.55,311.5,14.57,309,14.6,313.5,14.62,318,14.65,319,14.66,318.5,14.68,318,14.7,317,14.72,317.5,14.75,318,14.77,321,14.79,326,14.82,330,14.85,328,14.88,329,14.9,328,14.93,329,14.95,332,14.98,333,15,335,15.02,336.5,15.04,337,15.06,331,15.08,328,15.1,323,15.12,322.5,15.14,322.5,15.18,334,15.2,344,15.22,311.5,15.24,314.5,15.26,312.5,15.28,348,15.3,344,15.33,341,15.35,338,15.37,335,15.39,332,15.4,333,15.42,329,15.45,328.5,15.47,331,15.5,334,15.53,337,15.56,337,15.58,339,15.6,339.5,15.62,337,15.65,337,15.68,338,15.7,339,15.73,338.5,15.76,338.5,15.78,339,15.8,340,15.83,343,15.86,345,15.89,346,15.92,346,15.95,346,15.98,347];
var p7BlueSolid = [14.01,265.5,14.05,276.3,14.1,272,14.13,273,14.16,289,14.18,303,14.22,305,14.27,306.5,14.31,313.8,14.36,311.5,14.4,315,14.45,321.5,14.51,322.5,14.58,320,14.63,316,14.69,315,14.73,306.6,14.75,330.5,14.79,322,14.84,329.5,14.9,327,14.96,335,15.02,333,15.06,328,15.09,323.3,15.15,324.5,15.18,313.8,15.22,339,15.24,330,15.28,349.5,15.35,348,15.4,340,15.46,334,15.49,333.5,15.53,336,15.59,338,15.63,337,15.71,341.8,15.8,343,15.9,342.5,16,347];
var p7BlueDash = [14,264,14.05,275.5,14.1,272.5,14.16,289,14.18,303,14.27,306,14.31,313,14.36,311,14.45,321,14.51,322,14.58,320,14.69,315,14.73,307,14.75,330,14.79,322,14.84,329,14.96,335,15.06,328,15.09,323,15.18,314,15.22,339,15.24,330,15.28,349,15.35,347.5,15.4,340,15.46,334,15.59,338,15.71,342,15.9,342.5,16,347.5];
var p7BlueDot = [14,262,14.05,277,14.1,274,14.16,290,14.18,304,14.27,307,14.31,314,14.36,312,14.45,322,14.51,323,14.58,320.5,14.69,316,14.73,308,14.75,331,14.79,323,14.84,330,14.96,336,15.06,329,15.09,324,15.18,315,15.22,340,15.24,331,15.28,350,15.35,348.5,15.4,341,15.46,335,15.59,339,15.71,343,15.9,343,16,348];
var p7RedSolid = [14.01,264.5,14.05,276.5,14.1,277.5,14.12,272.7,14.15,290,14.18,302,14.2,302.5,14.24,306.5,14.31,313.5,14.36,312,14.39,310.5,14.43,320.5,14.49,321.5,14.57,321,14.63,317.5,14.67,309,14.7,308,14.73,323,14.75,336,14.77,326,14.81,344.7,14.82,331.5,14.87,328,14.9,334,14.93,327,14.97,344,15,331.5,15.03,338.5,15.06,318.5,15.09,329,15.13,324.5,15.15,330.5,15.18,313.8,15.21,339,15.25,326,15.3,342,15.35,338.5,15.4,342,15.44,337,15.52,331.5,15.56,337,15.65,336.5,15.76,342,15.85,343.5,15.94,346.5,16,350.4];
var p7RedDash = [14,263,14.05,277,14.1,277,14.13,274,14.16,292,14.2,302,14.27,306,14.31,312,14.39,311,14.45,321,14.57,321,14.63,318,14.69,308.5,14.74,330,14.8,345,14.83,332,14.85,332,14.87,345.5,14.89,331,14.92,351,14.94,330,14.96,348,14.98,334,15.04,325,15.07,320,15.11,330,15.15,326,15.18,317,15.22,335,15.25,328,15.29,344,15.34,342,15.38,345,15.42,341,15.47,337,15.55,336,15.65,337,15.76,341,15.9,345,16,350];
var p7RedDot = [14,261,14.03,272,14.06,279,14.1,278,14.18,291,14.2,300,14.27,306,14.31,311,14.39,309.5,14.45,320,14.57,320.5,14.69,309,14.74,325,14.78,340,14.81,345,14.85,323,14.88,333,14.92,314,14.925,345,14.95,328,14.98,342,15.02,335,15.07,318,15.1,329,15.12,337,15.17,328,15.22,337,15.28,345,15.35,343,15.45,340,15.52,335,15.65,336,15.8,343,16,349.5];

// ---- panel 8, wave height, 2003/12
var p8Measured = [14.02,1.79,14.05,1.88,14.07,1.85,14.09,1.95,14.13,1.95,14.15,1.97,14.17,1.98,14.21,2.22,14.23,2.04,14.25,2.2,14.27,2.16,14.29,2.14,14.31,2.13,14.33,2.22,14.35,2.28,14.37,2.33,14.38,2.54,14.41,2.46,14.42,2.46,14.44,2.7,14.46,2.94,14.48,2.8,14.5,2.71,14.53,3.04,14.55,3.02,14.57,2.68,14.59,2.78,14.62,2.78,14.63,2.87,14.65,3.02,14.67,2.91,14.69,3.08,14.71,2.94,14.73,2.94,14.75,3,14.77,2.98,14.79,2.99,14.81,2.79,14.84,2.48,14.86,2.54,14.88,2.37,14.9,2.52,14.92,2.39,14.94,2.65,14.97,2.59,14.99,2.6,15.01,2.61,15.03,2.63,15.05,2.65,15.08,2.7,15.1,2.72,15.12,2.79,15.14,2.65,15.16,2.66,15.18,2.62,15.2,2.71,15.22,2.59,15.24,2.74,15.26,2.6,15.29,2.52,15.31,2.53,15.33,2.44,15.35,2.5,15.36,2.09,15.39,2.28,15.41,2.09,15.42,2.29,15.44,2.14,15.46,2.24,15.48,2.11,15.5,2.32,15.52,2.25,15.53,2.29,15.56,2.56,15.58,2.6,15.6,2.6,15.62,2.62,15.64,2.56,15.66,2.85,15.68,2.72,15.7,2.55,15.73,2.6,15.75,2.47,15.77,2.5,15.79,2.49,15.81,2.47,15.83,2.42,15.85,2.42,15.87,2.28,15.89,2.42,15.92,2.16,15.95,2.25,15.97,2.29,15.99,2.2];
var p8BlueSolid = [14,2.15,14.07,2.53,14.17,2.89,14.25,3.08,14.32,3.42,14.38,3.9,14.46,4.12,14.52,4.12,14.58,3.98,14.64,3.83,14.71,3.72,14.76,3.73,14.81,3.83,14.85,3.94,14.89,4.05,14.92,3.94,14.98,3.99,15.07,3.99,15.13,4.1,15.19,4.16,15.23,4.11,15.27,4.11,15.32,4.04,15.38,4.05,15.49,4.15,15.58,4.18,15.71,4.12,15.8,3.99,15.89,3.83,16,3.58];
var p8BlueDash = [14,2.06,14.07,2.31,14.2,2.85,14.26,3.06,14.31,3.4,14.38,3.88,14.46,4.11,14.58,3.97,14.71,3.7,14.76,3.72,14.81,3.87,14.89,4.07,14.92,3.92,15.07,4,15.19,4.17,15.27,4.1,15.49,4.16,15.58,4.19,15.71,4.13,15.89,3.85,16,3.6];
var p8BlueDot = [14,2.2,14.07,2.6,14.17,2.97,14.25,3.14,14.32,3.55,14.38,3.98,14.46,4.18,14.58,4.04,14.71,3.8,14.76,3.82,14.81,3.94,14.89,4.09,14.98,4.05,15.07,4.04,15.19,4.2,15.27,4.13,15.49,4.18,15.58,4.21,15.71,4.16,15.89,3.88,16,3.63];
var p8RedSolid = [14,2.44,14.07,2.74,14.17,3.08,14.26,3.21,14.32,3.33,14.4,3.53,14.49,3.55,14.58,3.48,14.68,3.42,14.76,3.42,14.82,3.46,14.89,3.56,14.94,3.4,15,3.49,15.11,3.5,15.19,3.58,15.27,3.5,15.35,3.48,15.44,3.5,15.47,3.46,15.56,3.57,15.67,3.53,15.76,3.53,15.86,3.48,16,3.38];
var p8RedDash = [14,2.35,14.07,2.65,14.17,3,14.26,3.18,14.32,3.32,14.4,3.52,14.49,3.54,14.68,3.41,14.76,3.41,14.89,3.54,14.94,3.38,15.11,3.49,15.19,3.57,15.35,3.47,15.56,3.56,15.76,3.52,16,3.38];
var p8RedDot = [14,2.5,14.07,2.78,14.17,3.13,14.26,3.24,14.32,3.35,14.4,3.55,14.49,3.56,14.68,3.43,14.76,3.43,14.89,3.57,14.94,3.41,15.11,3.51,15.19,3.59,15.35,3.49,15.56,3.58,15.76,3.54,16,3.4];

// ---- panel 9, wind speed 15m, 2004/03
var p9Measured = [19.01,9,19.03,9.2,19.05,8.9,19.07,9.3,19.09,8.5,19.11,8.1,19.13,8.25,19.15,8.3,19.17,8.2,19.19,8,19.22,8,19.24,7.8,19.26,8,19.28,8.2,19.3,8.4,19.32,8.6,19.34,8.8,19.36,9.1,19.38,9.3,19.41,9.8,19.43,10.1,19.46,10.7,19.47,11.2,19.49,11.3,19.5,11.7,19.52,12.3,19.54,12.5,19.56,12.9,19.58,13.3,19.59,14.4,19.61,15.3,19.63,16.4,19.65,17.3,19.67,17.6,19.68,17.8,19.7,17.4,19.72,16.9,19.74,16.2,19.76,16.6,19.78,17.6,19.83,18.9,19.84,18.6,19.85,19,19.87,18.6,19.9,18.2,19.93,18.3,19.95,18.1,19.98,17.5,20.02,16.8,20.04,16.2,20.06,15.5,20.08,15,20.1,14.5,20.12,14,20.14,13.5,20.16,13,20.18,12.5,20.2,11.7,20.22,11.1,20.24,10.6,20.26,10.3,20.28,10.2,20.3,9.9,20.32,9.7,20.34,10.5,20.4,8.5,20.43,7.5,20.45,6.2,20.47,6.4,20.49,7.1,20.51,7.9,20.53,8.5,20.55,8.9,20.57,9.2,20.59,9.1,20.61,9.8,20.63,11.1,20.68,14.9,20.72,17.2,20.74,17,20.77,16.4,20.8,15.7,20.85,15.8,20.87,15.3,20.9,16.2,20.93,16.7,20.95,17,20.97,17.5,21,18.2,21.03,19,21.05,18.8,21.08,18.7,21.12,19.4,21.15,20.5,21.17,20.6,21.19,19.9,21.21,19,21.23,18.3,21.25,17.6,21.27,17.3,21.29,17.2,21.31,15.6,21.33,12.8,21.36,9.2,21.41,7.4,21.43,7.8,21.45,8.2,21.47,8.4,21.49,8.6,21.51,8.5,21.53,8.7,21.545,8.4,21.56,8.5,21.575,8.6,21.59,8.6,21.605,8.6,21.62,8.5,21.635,8.6,21.65,8.5,21.665,8.4,21.68,8.4,21.695,8.3,21.71,8.2,21.725,8,21.74,7.9,21.755,7.7,21.77,7.7,21.785,7.6,21.8,7.7,21.815,7.6,21.83,7.4,21.845,7.4,21.86,7.5,21.875,7.4,21.89,7.4,21.905,7.4,21.92,7.3,21.935,7.2,21.95,7.2,21.965,7.1,21.98,7.1,21.995,7,22.01,6.8,22.025,6.6,22.04,6.4,22.055,6.2,22.07,6,22.085,5.9,22.1,5.9,22.115,5.8,22.13,5.8,22.145,5.9,22.16,5.8,22.175,5.9,22.19,5.9,22.205,6,22.22,6.1,22.235,6.2,22.25,6.1,22.265,6.2,22.28,6.1,22.295,6,22.31,5.9,22.325,5.9,22.34,5.8,22.355,5.8,22.37,5.7,22.385,5.7,22.4,5.6,22.415,5.6,22.43,5.5,22.445,5.5,22.46,5.4,22.475,5.45,22.49,5.45,22.505,5.6,22.52,5.8,22.535,6.1,22.55,6.3,22.565,6.5,22.58,6.5,22.595,6.5,22.61,6.4,22.625,6.3,22.64,6.2,22.655,6.2,22.67,6.2,22.685,6.3,22.7,6.4,22.715,6.5,22.73,6.5,22.745,6.5,22.76,6.4,22.775,6.2,22.79,6.1,22.805,5.9,22.82,5.8,22.835,5.7,22.85,5.7,22.865,5.6,22.88,5.6,22.895,5.5,22.91,5.5,22.925,5.6,22.94,5.7,22.955,5.8,22.97,5.9,22.985,5.9,23,5.9];
var p9BlueSolid = [19,9.6,19.05,9.5,19.11,10.2,19.17,9.2,19.24,8.4,19.32,8.3,19.38,9,19.47,9.9,19.55,11.5,19.59,12.7,19.64,16.3,19.67,17.5,19.7,16.5,19.74,14.1,19.79,15.2,19.85,17.2,19.89,18.2,19.93,17.9,19.97,16.7,20.01,16.9,20.06,16.4,20.1,16.1,20.13,16.5,20.19,14.8,20.25,13.7,20.3,12.8,20.36,13,20.4,11.9,20.43,9.2,20.46,9.9,20.49,11.7,20.53,11.5,20.58,15,20.64,15.2,20.69,14.5,20.73,14.4,20.78,14.1,20.82,15,20.86,16.2,20.89,18.1,20.95,18.6,21,18.3,21.06,16,21.12,12.8,21.18,10.2,21.24,9.2,21.3,10.2,21.36,12,21.42,11,21.48,10.9,21.54,11.7,21.63,10.9,21.69,10.5,21.75,9.2,21.82,7.5,21.87,6.2,21.94,8.3,22,8.7,22.06,9.4,22.12,7.9,22.21,10.2,22.27,8.7,22.35,9,22.45,9.6,22.53,9.2,22.63,10.4,22.74,9.4,22.84,9,22.92,7.3,23,5.7];
var p9BlueDash = [19,9.4,19.11,10,19.24,8.3,19.32,8.1,19.47,9.8,19.55,11.4,19.64,16.2,19.67,17.4,19.74,14,19.85,17.1,19.89,18.3,19.97,16.5,20.06,16.2,20.19,14.7,20.3,12.7,20.36,12.9,20.43,9.1,20.49,11.5,20.58,14.8,20.69,14.3,20.78,14,20.86,16,20.89,17.9,20.95,18.5,21.06,16.1,21.18,10.3,21.24,9.4,21.36,11.8,21.42,10.9,21.54,11.5,21.69,10.4,21.75,8.8,21.87,6.5,21.94,8.1,22.06,9,22.12,8.4,22.21,10.1,22.27,9,22.35,8.7,22.45,9.3,22.63,9.6,22.74,8.8,22.84,8.8,23,7.2];
var p9BlueDot = [19,9.5,19.11,10.2,19.24,8.5,19.32,8.4,19.47,10,19.55,11.6,19.64,16.4,19.67,17.5,19.74,14.2,19.85,17.2,19.89,18.4,19.97,16.8,20.06,16.5,20.19,15,20.3,13,20.36,13.1,20.43,9.4,20.49,11.8,20.58,15.1,20.69,14.6,20.78,14.3,20.86,16.2,20.89,18.2,20.95,18.6,21.06,16.2,21.18,10.4,21.24,9.5,21.36,12.2,21.42,11.1,21.54,12,21.69,10.7,21.75,9,21.87,6.8,21.94,8.6,22.06,9.6,22.12,8.6,22.21,10.3,22.27,9.2,22.35,9,22.45,9.5,22.63,10,22.74,9.1,22.84,8.8,23,7.8];
var p9RedSolid = [19,9.8,19.05,9.7,19.11,10.2,19.17,9.2,19.24,8.7,19.32,8.6,19.38,8.8,19.47,9.8,19.56,11.5,19.6,12.8,19.64,16,19.67,17.2,19.7,16.3,19.73,13.5,19.79,15,19.85,17.3,19.91,15.8,19.97,16.5,20.02,18.1,20.06,16.6,20.12,15.8,20.19,14.6,20.28,12.6,20.36,13.1,20.4,11.7,20.43,7.5,20.46,9.8,20.51,11.7,20.54,11.3,20.58,14.95,20.61,13.7,20.65,15.3,20.68,13.2,20.73,14.4,20.79,14.5,20.85,18,20.91,20.7,20.95,21.3,21.01,20.5,21.06,17.3,21.1,13.2,21.16,10.9,21.24,9.2,21.3,10,21.31,13.2,21.34,11.1,21.39,11.3,21.48,10.7,21.54,12,21.57,11.5,21.63,11.7,21.69,10.7,21.75,9.2,21.82,7.3,21.88,5.8,21.96,7.1,22,11.1,22.03,13.2,22.06,10.9,22.12,8.3,22.18,8.9,22.24,8.1,22.32,8.9,22.44,8.3,22.53,8.9,22.62,10.4,22.71,9.6,22.8,8.3,22.89,8.9,22.95,8.3,23,7.05];
var p9RedDash = [19,9.6,19.11,10.1,19.24,8.6,19.38,8.7,19.56,11.4,19.64,16,19.67,17.3,19.73,13.4,19.85,17.4,19.91,15.7,20.02,18,20.12,15.7,20.28,12.5,20.36,13,20.43,7.6,20.51,11.5,20.58,14.8,20.65,15.5,20.68,13.4,20.79,14.6,20.91,20.8,21.01,20.4,21.1,13,21.24,9,21.3,10,21.32,13.4,21.39,11.4,21.54,13,21.63,11.4,21.75,9,21.88,5,21.96,7.8,22.03,13.3,22.12,8,22.18,9.8,22.24,7.6,22.32,9.2,22.44,8,22.62,10.1,22.71,9.4,22.8,8,22.89,8.2,23,7.4];
var p9RedDot = [19,9.9,19.11,10.3,19.24,8.8,19.38,8.9,19.56,11.7,19.64,16.2,19.67,17.6,19.73,13.6,19.85,17.5,19.91,16.1,20.02,18.9,20.12,15.9,20.28,12.3,20.36,13.7,20.43,7.8,20.51,11,20.58,14.6,20.65,15.7,20.68,13.5,20.79,14.7,20.91,21,20.95,21.5,21.01,20.6,21.1,13.5,21.24,7.9,21.3,10.5,21.31,13.5,21.39,11.6,21.54,13.4,21.63,11.8,21.75,9.3,21.88,5.4,21.96,8.4,22.03,13.1,22.12,8.4,22.18,10.4,22.24,8.9,22.32,10.5,22.44,8.9,22.62,10.8,22.71,9.8,22.8,8.7,22.89,9.1,23,8];

// ---- panel 10, wind speed 62m, 2004/03
var p10Measured = [19.01,13,19.03,13.4,19.05,13.8,19.07,13.3,19.09,12.8,19.11,12.3,19.13,11.9,19.15,12,19.18,11.8,19.2,11.5,19.23,11.5,19.26,11.5,19.29,11.5,19.32,11.6,19.35,11.8,19.38,12.2,19.4,12.5,19.42,13,19.44,14,19.46,14.3,19.48,14.5,19.5,14.8,19.53,15.4,19.55,16,19.57,16.8,19.59,18.5,19.61,19.6,19.63,20.8,19.66,21.7,19.69,21.9,19.71,21,19.73,20.3,19.76,20,19.78,20.6,19.81,22.2,19.83,23.2,19.85,23.5,19.87,23,19.9,22.7,19.92,22.5,19.94,22.3,19.97,22,19.99,21,20.01,20.4,20.03,20,20.05,19.4,20.07,18.8,20.09,18.3,20.11,17.6,20.13,16.9,20.15,16.4,20.17,15.9,20.19,15.3,20.21,14.7,20.23,14.2,20.25,13.9,20.27,13.6,20.3,13.3,20.33,13.1,20.39,10.7,20.43,8.6,20.45,8.8,20.48,9.8,20.5,10.2,20.52,10.6,20.54,11,20.56,11.6,20.58,12.4,20.6,13.3,20.62,14,20.65,17.5,20.67,18.8,20.72,22,20.74,21.8,20.77,21.1,20.79,20.7,20.82,20.7,20.85,20.5,20.88,20.2,20.91,21,20.94,20.8,20.97,21.5,21,22.1,21.03,23,21.06,23.2,21.09,23.5,21.12,24.1,21.15,25.1,21.17,25.2,21.19,24.3,21.21,23.1,21.23,22.5,21.25,21.6,21.27,21.2,21.29,20.9,21.36,19,21.38,15.5,21.4,10.8,21.44,8.2,21.46,8.4,21.48,8.9,21.5,9.2,21.52,9.6,21.535,10,21.55,10.2,21.565,10.4,21.58,10.5,21.6,10.4,21.615,10.1,21.63,9.8,21.645,9.5,21.66,9.4,21.68,9.3,21.695,9.8,21.71,10.6,21.725,11.1,21.74,11.2,21.755,11.2,21.77,11.3,21.785,11.4,21.8,11.5,21.815,11.5,21.83,11.5,21.845,11.5,21.86,11.5,21.875,11.4,21.89,11.2,21.905,10.8,21.92,10.4,21.935,10.1,21.95,9.9,21.965,9.7,21.98,9.4,21.995,9.1,22.01,8.8,22.025,8.6,22.04,8.4,22.055,8.2,22.07,8,22.085,7.8,22.1,7.7,22.115,7.6,22.13,7.6,22.145,7.7,22.16,7.8,22.175,7.8,22.19,7.9,22.205,8,22.22,8.1,22.235,8.2,22.25,8.5,22.265,8.8,22.28,8.9,22.295,8.7,22.31,8.4,22.325,8.2,22.34,8,22.355,8,22.37,7.9,22.385,7.9,22.4,7.9,22.415,8.1,22.43,8.3,22.445,8.5,22.46,8.7,22.475,9,22.49,9.2,22.505,9.4,22.52,9.4,22.535,9.2,22.55,9,22.565,8.9,22.58,8.8,22.595,9,22.61,9.2,22.625,9.4,22.64,9.4,22.655,9.2,22.67,9.1,22.685,9,22.7,8.9,22.715,8.8,22.73,8.7,22.745,8.5,22.76,8.4,22.775,8.3,22.79,8.2,22.805,8.2,22.82,8.2,22.835,8.3,22.85,8.4,22.865,8.5,22.88,8.5,22.895,8.5,22.91,8.4,22.925,8.3,22.94,8.3,22.955,8.3,22.97,8.4,22.985,8.5,23,8.4];
var p10BlueSolid = [19,11.9,19.05,12.4,19.1,13.3,19.17,12,19.24,11.1,19.33,10.7,19.42,12,19.51,14.2,19.57,16,19.62,19.9,19.66,22.2,19.72,18.1,19.75,18.5,19.83,22,19.89,21.3,19.95,20.1,20.01,20.8,20.08,19.5,20.17,17.9,20.26,15.6,20.32,15.3,20.36,16,20.41,10.3,20.46,12.8,20.52,14.2,20.56,20.3,20.64,20.1,20.68,19.9,20.76,19,20.8,19.9,20.86,23.1,20.92,23.9,20.98,23.3,21.04,18.8,21.1,14.9,21.16,12.8,21.22,10.8,21.28,12,21.33,14.9,21.37,13.6,21.45,13.3,21.54,14.4,21.64,13.5,21.72,10.6,21.81,9.2,21.88,6.7,21.96,11,22.02,11.3,22.11,8.8,22.18,9.9,22.3,10.3,22.38,10.5,22.45,11.7,22.51,10.6,22.62,13.1,22.68,11.7,22.81,11.5,22.9,9.9,23,7.4];
var p10BlueDash = [19,11.9,19.1,13.2,19.24,11,19.33,10.6,19.51,14.1,19.62,19.8,19.66,22.2,19.72,18,19.83,21.8,19.95,20,20.08,19.4,20.26,15.5,20.36,15.9,20.41,10.2,20.52,14.1,20.56,20.2,20.76,18.9,20.86,23,20.92,23.8,21.04,18.8,21.16,12.6,21.22,10.6,21.33,14.8,21.45,13.2,21.54,14.2,21.72,10.4,21.88,7,21.96,11.4,22.05,12.4,22.11,11.8,22.18,12.2,22.2,13.2,22.24,11,22.3,10.5,22.33,12.6,22.38,11,22.45,12.1,22.62,12.4,22.72,11.7,22.81,11.2,22.9,10.2,23,8.4];
var p10BlueDot = [19,12,19.1,13.4,19.24,11.2,19.33,10.9,19.51,14.3,19.62,20,19.66,22.3,19.72,18.2,19.83,22.1,19.95,20.3,20.08,19.6,20.26,15.7,20.36,16.1,20.41,10.4,20.52,14.3,20.56,20.4,20.76,19.1,20.86,23.2,20.92,24,21.04,19,21.16,12.9,21.22,10.9,21.33,15,21.45,13.4,21.54,14.6,21.72,10.7,21.88,7.2,21.96,11.1,22.05,10.5,22.11,9.4,22.18,10.5,22.3,10.5,22.38,10.8,22.45,11.6,22.62,11.8,22.72,11,22.81,10.4,22.9,9.7,23,8];
var p10RedSolid = [19,11.8,19.09,13.2,19.17,11.9,19.24,11.3,19.32,10.8,19.42,12.2,19.51,14.4,19.57,16.1,19.62,19.9,19.66,22.6,19.72,18.5,19.76,18.8,19.83,21.9,19.9,19.4,19.95,20.1,20.01,22.2,20.07,20.6,20.17,17.8,20.28,14.9,20.35,16,20.38,13.5,20.42,8.1,20.47,12.8,20.51,13.9,20.56,20.1,20.61,18.8,20.65,21.7,20.68,18.8,20.73,19.9,20.8,20.3,20.86,24.9,20.92,26,20.97,25.6,21.02,21.3,21.07,16,21.15,12.8,21.22,10.8,21.28,12,21.31,14.2,21.37,14.4,21.46,13.2,21.54,15.3,21.61,13.5,21.67,13.2,21.72,11,21.81,8.1,21.88,5.3,21.93,7.4,21.97,10.3,22.03,15,22.06,11.7,22.11,8.1,22.18,11,22.26,8.5,22.32,9.9,22.42,7.4,22.5,8.8,22.57,11.3,22.65,11.7,22.72,10.6,22.81,10.4,22.9,9.2,23,8.5];
var p10RedDash = [19,11.7,19.09,13.1,19.24,11.2,19.32,10.9,19.51,14.3,19.62,19.8,19.66,22.5,19.72,18.4,19.83,21.7,19.9,19.2,20.01,22.4,20.17,17.6,20.28,14.8,20.35,15.9,20.42,8.3,20.51,13.7,20.56,19.8,20.61,18.4,20.65,21.4,20.68,18.5,20.8,20.1,20.86,24.8,20.92,26.1,21.07,15.8,21.22,10.6,21.3,13.5,21.37,13.8,21.46,13,21.54,15.4,21.67,12.9,21.81,8.4,21.9,5.8,21.97,10.1,22.03,14.7,22.11,8.6,22.18,11.4,22.26,7.9,22.32,10.8,22.42,8.2,22.57,11.4,22.65,11.2,22.72,10.7,22.81,10.6,23,9.2];
var p10RedDot = [19,11.9,19.09,13.3,19.24,11.4,19.32,11,19.51,14.4,19.62,20,19.66,22.4,19.72,18.2,19.83,21.5,19.9,19.6,20.01,22.9,20.17,17.9,20.28,14.7,20.35,15.8,20.42,8.6,20.51,13.5,20.56,19.4,20.61,17.9,20.65,20.9,20.68,17.7,20.8,19.8,20.86,24.6,20.92,26.3,21.07,16.4,21.22,9.6,21.3,12.8,21.37,14.6,21.46,13.5,21.54,15.4,21.67,13.4,21.81,8.6,21.9,6,21.97,11,22.03,14.2,22.11,9.9,22.18,12.4,22.26,6.4,22.32,11.7,22.42,8.7,22.57,11.7,22.65,11.4,22.72,11,22.81,11.2,23,9.6];

// ---- panel 11, wind direction 43m, 2004/03
var p11Measured = [19.01,225,19.03,228,19.05,231,19.07,233,19.1,232,19.12,230,19.15,229,19.18,229,19.2,227,19.23,224,19.26,219,19.29,217,19.32,215,19.34,212,19.37,209,19.4,206,19.42,204,19.45,200,19.47,194,19.49,188,19.51,181,19.53,176,19.55,174,19.57,173,19.59,172,19.61,172,19.63,176,19.65,185,19.67,195,19.69,205,19.71,214,19.73,220,19.74,223,19.77,230,19.8,235,19.82,240,19.85,244,19.88,250,19.91,255,19.94,259,19.97,262,20,266,20.03,268,20.06,268,20.09,265,20.12,264,20.15,263,20.18,261,20.21,258,20.24,256,20.26,252,20.28,249,20.3,245,20.32,243,20.34,242,20.36,240,20.38,236,20.4,232,20.42,225,20.44,216,20.47,205,20.49,195,20.52,176,20.54,180,20.56,186,20.58,201,20.6,206,20.62,209,20.64,205,20.66,203,20.68,211,20.7,222,20.72,229,20.74,237,20.78,243,20.82,244,20.86,246,20.9,250,20.94,254,20.98,257,21,258,21.03,260,21.06,261,21.1,261,21.14,263,21.18,264,21.22,268,21.24,272,21.26,277,21.3,285,21.33,292,21.36,298,21.38,311,21.39,312,21.42,294,21.45,281,21.48,274,21.5,272,21.53,275,21.56,273,21.6,272,21.64,273,21.68,270,21.72,265,21.76,267,21.8,262,21.84,258,21.88,256,21.92,254,21.96,253,22,252,22.04,253,22.08,256,22.12,260,22.16,262,22.2,260,22.24,266,22.28,268,22.32,270,22.34,282,22.38,287,22.4,291,22.43,296,22.45,298,22.47,287,22.5,283,22.54,276,22.58,274,22.62,272,22.66,272,22.7,273,22.74,273,22.78,275,22.82,276,22.86,277,22.9,281,22.94,282,22.98,281];
var p11BlueSolid = [19,226,19.05,225,19.12,241.2,19.18,244.4,19.24,238.3,19.32,220.3,19.39,207.9,19.48,196.5,19.54,187,19.6,172.7,19.64,177.5,19.69,204,19.74,235.5,19.78,230.7,19.86,244,19.92,259,20.02,275.4,20.1,269.7,20.22,263,20.28,253.5,20.34,241.2,20.4,228.8,20.44,202.2,20.47,185,20.52,203,20.55,236.4,20.62,238.3,20.7,242,20.79,243,20.86,257.3,20.98,272.5,21.06,305.8,21.15,289.7,21.22,270.6,21.29,251.6,21.33,265.9,21.39,259,21.48,243,21.55,249.7,21.66,265.9,21.73,253.5,21.82,242,21.88,215.5,21.94,240,22,278.3,22.06,283,22.12,274.5,22.22,256.4,22.29,261,22.34,285,22.39,265,22.44,251.6,22.54,248.8,22.64,260,22.78,248,22.89,257.3,23,264];
var p11BlueDash = [19,226,19.12,241,19.18,244.2,19.32,220,19.48,196.3,19.6,172.5,19.69,204,19.74,235,19.86,243.8,20.02,274.5,20.22,262.8,20.34,241,20.44,202,20.47,186,20.55,236,20.79,243,20.98,272,21.06,304,21.15,289,21.29,252,21.33,265,21.48,243,21.66,265.5,21.82,242,21.88,218,21.94,236,22,272,22.05,280,22.12,262,22.2,268,22.29,262,22.34,284,22.39,270,22.44,252,22.54,248,22.64,260,22.72,252,22.78,251,22.89,253,23,250];
var p11BlueDot = [19,226.5,19.12,241.5,19.18,244.6,19.32,220.5,19.48,196.8,19.6,173,19.69,204.5,19.74,236,19.86,244.3,20.02,275,20.22,263.3,20.34,241.5,20.44,202.5,20.47,186.5,20.55,236.5,20.79,243.5,20.98,272.5,21.06,305,21.15,289.5,21.29,252.5,21.33,265.5,21.48,243.5,21.66,266,21.82,242.5,21.88,224,21.94,242,22.03,302,22.08,276,22.14,260,22.22,268,22.29,256,22.34,280,22.39,255,22.44,248,22.54,245,22.64,252,22.72,250,22.78,250,22.89,252,23,254];
var p11RedSolid = [19,228,19.06,226,19.12,242,19.18,244.4,19.26,235.5,19.33,214.6,19.41,203,19.48,196.5,19.54,189,19.6,172.5,19.65,181,19.69,208,19.74,236,19.78,228.8,19.86,245,19.92,257.3,20.01,271.6,20.1,269.7,20.22,264,20.28,253.5,20.32,242,20.4,225,20.44,200,20.48,182.8,20.51,190.7,20.55,235.5,20.59,241,20.62,236.4,20.65,242,20.7,240,20.74,245.5,20.79,241.6,20.85,256.4,20.98,274.5,21.03,302,21.08,287.7,21.13,274.5,21.18,276.4,21.22,267,21.27,255.5,21.33,265,21.4,255.5,21.48,239.4,21.55,248,21.64,262.2,21.73,253.5,21.82,240,21.86,225.7,21.92,285,21.97,246,22.01,253.5,22.07,285.8,22.14,261,22.17,273.5,22.23,274.5,22.29,265,22.33,280,22.4,259,22.46,228.8,22.52,274.5,22.58,259,22.67,253.5,22.75,251.6,22.82,240,22.9,243.8,22.96,241.6,23,248];
var p11RedDash = [19,227.5,19.12,241.5,19.18,244,19.33,214,19.48,196,19.6,172.3,19.69,207.5,19.74,235.5,19.86,244.5,20.01,271,20.22,263.5,20.32,241.5,20.44,199.5,20.48,183,20.55,235,20.62,236,20.79,241,20.98,274,21.03,301,21.08,287,21.13,271,21.18,274,21.27,255,21.33,265,21.4,255,21.48,239,21.64,262,21.82,240,21.86,232,21.92,232,21.98,262,22.05,283,22.12,254,22.19,274,22.28,255,22.33,278,22.4,245,22.46,243,22.52,250,22.58,259,22.7,257,22.78,254,22.85,256,22.93,248,23,247];
var p11RedDot = [19,228,19.12,242,19.18,244.6,19.33,214.5,19.48,196.5,19.6,173,19.69,208,19.74,236,19.86,245,20.01,271.5,20.22,264,20.32,242,20.44,200,20.48,183.5,20.55,235.5,20.62,236.5,20.79,241.5,20.98,274.5,21.03,301.5,21.08,287.5,21.13,270,21.18,271,21.27,255.5,21.33,265.5,21.4,255.5,21.48,239.5,21.64,262.5,21.82,240.5,21.86,236,21.92,240,21.98,270,22.03,305,22.08,262,22.14,247,22.22,270,22.29,268,22.36,275,22.43,256,22.52,255,22.58,251,22.7,249,22.78,247,22.85,246,22.93,241,23,237];

// ---- panel 12, wave height, 2004/03
var p12Measured = [19.02,.97,19.03,.94,19.05,1.02,19.08,1.09,19.1,1.02,19.12,.98,19.15,1.12,19.17,1.13,19.2,1.14,19.24,.96,19.26,1,19.28,1.02,19.3,1.05,19.33,.96,19.37,1.2,19.4,1.16,19.43,1.25,19.46,1.25,19.5,1.4,19.53,1.39,19.56,1.45,19.6,1.48,19.64,1.48,19.66,1.67,19.69,1.85,19.72,2.05,19.75,2.2,19.77,2.45,19.78,2.6,19.81,2.65,19.83,2.85,19.86,2.75,19.88,2.8,19.9,2.67,19.93,3.2,19.95,3.3,19.98,3.52,20,3.35,20.03,3.5,20.06,3.42,20.09,3.45,20.12,3.15,20.15,3.05,20.18,3,20.2,2.9,20.23,2.7,20.25,2.48,20.28,2.65,20.31,2.4,20.33,2.43,20.36,2.35,20.38,2.25,20.4,2.28,20.43,2.1,20.45,1.9,20.48,2,20.51,1.85,20.53,1.67,20.55,1.6,20.58,1.48,20.6,1.55,20.63,1.52,20.66,1.5,20.68,1.72,20.7,1.87,20.74,2.33,20.78,2.65,20.82,2.45,20.85,2.7,20.88,2.7,20.91,2.75,20.94,3.05,20.97,3,21,3.2,21.03,3.1,21.06,3.25,21.09,3.15,21.12,3.05,21.15,3.25,21.18,3.41,21.21,3.1,21.24,3.1,21.27,3.1,21.3,3.15,21.34,3.3,21.37,3.35,21.4,2.98,21.43,2.8,21.46,2.75,21.51,2.6,21.54,2.42,21.57,2.38,21.61,2.2,21.64,2.15,21.67,2.05,21.7,1.95,21.74,1.8,21.77,1.7,21.8,1.62,21.84,1.53,21.87,1.52,21.9,1.45,21.92,1.4,21.94,1.38,21.96,1.35,21.98,1.37,22,1.4,22.02,1.3,22.04,1.2,22.06,1.18,22.08,1.15,22.1,1.12,22.12,1.1,22.14,1.07,22.16,1.05,22.18,1.05,22.2,1.05,22.22,1.02,22.24,1,22.26,1.03,22.28,1.05,22.3,1,22.32,.95,22.34,.93,22.36,.92,22.38,.91,22.4,.9,22.42,.89,22.44,.88,22.46,.9,22.48,.92,22.5,.9,22.52,.88,22.54,.89,22.56,.9,22.58,.92,22.6,.95,22.62,.97,22.64,.98,22.66,1,22.68,1.02,22.7,1.04,22.72,1.05,22.74,1.07,22.76,1.08,22.78,1.06,22.8,1.04,22.82,1.05,22.84,1.05,22.86,1.04,22.88,1.03,22.9,1.04,22.92,1.05,22.94,1.07,22.96,1.08,22.98,1.06,23,1.04];
var p12BlueSolid = [19,0,19.13,.44,19.25,.68,19.4,.78,19.55,1.06,19.67,1.63,19.79,2.54,19.91,3.47,20,3.61,20.11,3.44,20.23,3.16,20.35,2.63,20.44,2.06,20.52,1.94,20.6,2.16,20.74,2.49,20.83,3.11,20.94,3.68,21,3.66,21.11,2.82,21.23,1.97,21.29,1.85,21.35,1.92,21.44,1.92,21.59,2.23,21.68,2.11,21.81,1.63,21.95,1.35,22.05,1.73,22.14,1.35,22.29,1.16,22.44,1.35,22.59,1.47,22.86,1.42,23,1.32];
var p12BlueDash = [19,0,19.13,.4,19.25,.62,19.4,.72,19.55,1,19.67,1.58,19.79,2.48,19.91,3.42,20,3.56,20.23,3.1,20.35,2.56,20.44,1.98,20.52,1.85,20.6,2.05,20.74,2.38,20.83,3,20.94,3.6,21,3.6,21.11,2.78,21.23,1.9,21.29,1.78,21.44,1.85,21.59,2.11,21.68,2,21.81,1.55,21.95,1.3,22.05,1.63,22.14,1.3,22.29,1.12,22.44,1.28,22.59,1.25,22.86,1.24,23,1.22];
var p12BlueDot = [19,.02,19.13,.46,19.25,.7,19.4,.82,19.55,1.1,19.67,1.68,19.79,2.6,19.91,3.55,20,3.69,20.23,3.22,20.35,2.7,20.44,2.14,20.52,2,20.6,2.22,20.74,2.55,20.83,3.2,20.94,3.74,21,3.72,21.11,2.88,21.23,2.02,21.29,1.9,21.44,1.98,21.59,2.28,21.68,2.18,21.81,1.68,21.95,1.4,22.05,1.75,22.14,1.4,22.29,1.2,22.44,1.3,22.59,1.3,22.86,1.3,23,1.32];
var p12RedSolid = [19,0,19.13,.63,19.25,.82,19.4,.92,19.55,1.2,19.67,1.78,19.79,2.63,19.91,3.32,20.02,3.44,20.17,3.25,20.29,3.01,20.4,2.68,20.47,2.3,20.53,2.28,20.62,2.54,20.74,2.8,20.83,3.01,20.99,3.54,21.11,2.92,21.26,2.16,21.32,2.28,21.44,2.32,21.56,2.51,21.61,2.51,21.77,1.97,21.92,1.63,22.05,2.09,22.13,1.63,22.3,1.4,22.42,1.4,22.51,1.73,22.63,1.73,22.75,1.66,22.84,1.69,23,1.61];
var p12RedDash = [19,0,19.13,.6,19.25,.78,19.4,.88,19.55,1.16,19.67,1.75,19.79,2.6,19.91,3.34,20.02,3.42,20.17,3.2,20.29,2.95,20.4,2.6,20.47,2.22,20.53,2.2,20.62,2.45,20.74,2.72,20.83,3,20.99,3.5,21.11,2.85,21.26,2.12,21.32,2.2,21.44,2.25,21.56,2.4,21.65,2.35,21.77,1.88,21.92,1.54,22.05,1.88,22.13,1.56,22.3,1.36,22.45,1.37,22.6,1.54,22.75,1.47,22.9,1.44,23,1.45];
var p12RedDot = [19,.02,19.13,.65,19.25,.84,19.4,.96,19.55,1.24,19.67,1.82,19.79,2.68,19.91,3.36,20.02,3.46,20.17,3.28,20.29,3.05,20.4,2.74,20.47,2.38,20.53,2.35,20.62,2.64,20.74,2.88,20.83,3.08,20.99,3.52,21.11,2.98,21.26,2.3,21.32,2.38,21.44,2.4,21.56,2.61,21.65,2.45,21.77,2.05,21.92,1.68,22.05,2,22.13,1.68,22.3,1.42,22.45,1.42,22.6,1.5,22.75,1.5,22.9,1.55,23,1.72];

// axis labels and ticks
var yLabels = ["Wind Speed at 15m (m/s)", "Wind Speed at 62m (m/s)", "Wind Direction at 43m (Deg)", "Significant Wave Height (m)"];
var rowMonths = ["Time: 2002/12", "Time: 2003/12", "Time: 2004/03"];
var rowDays = [[22, 23, 24, 25], [14, 15, 16], [19, 20, 21, 22, 23]];
var yTicks = [
  d3.range(4, 23, 2), d3.range(4, 25, 2), d3.range(90, 151, 10), [0, .5, 1, 1.5, 2, 2.5, 3],
  d3.range(8, 25, 2), d3.range(12, 29, 2), d3.range(260, 361, 10), [1.5, 2, 2.5, 3, 3.5, 4, 4.5],
  d3.range(4, 23, 2), d3.range(0, 31, 5), d3.range(160, 321, 20), [0, .5, 1, 1.5, 2, 2.5, 3, 3.5, 4]
];

// plot boxes: left, right, top, bottom
var boxes = [
  [98, 542.5, 132, 412.7], [580.7, 1025.5, 135.7, 416.3], [1077.5, 1522, 136.7, 417.3], [1571, 2015, 139.3, 419.3],
  [92.4, 537, 452.3, 732.3], [580.7, 1025.5, 451.7, 731.7], [1078, 1523, 453.7, 734], [1571, 2015.5, 452.7, 732.7],
  [93, 538, 767.7, 1048], [580, 1025, 769.3, 1049.3], [1079.5, 1523.6, 770.7, 1051], [1572, 2016, 771.3, 1051]
];
var yLabelOffset = [-20, -20, -27, -23];

var measured = [p1Measured, p2Measured, p3Measured, p4Measured, p5Measured, p6Measured, p7Measured, p8Measured, p9Measured, p10Measured, p11Measured, p12Measured];
var runs = [
  [p1BlueSolid, p1BlueDash, p1BlueDot, p1RedSolid, p1RedDash, p1RedDot],
  [p2BlueSolid, p2BlueDash, p2BlueDot, p2RedSolid, p2RedDash, p2RedDot],
  [p3BlueSolid, p3BlueDash, p3BlueDot, p3RedSolid, p3RedDash, p3RedDot],
  [p4BlueSolid, p4BlueDash, p4BlueDot, p4RedSolid, p4RedDash, p4RedDot],
  [p5BlueSolid, p5BlueDash, p5BlueDot, p5RedSolid, p5RedDash, p5RedDot],
  [p6BlueSolid, p6BlueDash, p6BlueDot, p6RedSolid, p6RedDash, p6RedDot],
  [p7BlueSolid, p7BlueDash, p7BlueDot, p7RedSolid, p7RedDash, p7RedDot],
  [p8BlueSolid, p8BlueDash, p8BlueDot, p8RedSolid, p8RedDash, p8RedDot],
  [p9BlueSolid, p9BlueDash, p9BlueDot, p9RedSolid, p9RedDash, p9RedDot],
  [p10BlueSolid, p10BlueDash, p10BlueDot, p10RedSolid, p10RedDash, p10RedDot],
  [p11BlueSolid, p11BlueDash, p11BlueDot, p11RedSolid, p11RedDash, p11RedDot],
  [p12BlueSolid, p12BlueDash, p12BlueDot, p12RedSolid, p12RedDash, p12RedDot]
];

var styles = [
  {color: "#0a0af5", width: 2.1, dash: null},
  {color: "#0a0af5", width: 1.6, dash: "5,3.5"},
  {color: "#0a0af5", width: 1.1, dash: "1,1.5"},
  {color: "#fa0c0c", width: 2.1, dash: null},
  {color: "#fa0c0c", width: 1.6, dash: "5,3.5"},
  {color: "#fa0c0c", width: 1.1, dash: "1,1.5"}
];

function pairs(flat) {
  var out = [];
  for (var i = 0; i < flat.length; i += 2) out.push([flat[i], flat[i + 1]]);
  return out;
}

var svg = d3.select("#chart").append("svg")
    .attr("width", 2090)
    .attr("height", 1144)
    .style("display", "block");

svg.append("rect").attr("width", 2090).attr("height", 1144).attr("fill", "#eff1f7");
svg.append("rect").attr("x", 71).attr("y", 0).attr("width", 1978).attr("height", 87).attr("fill", "#fff");
svg.append("rect").attr("x", 24).attr("y", 99).attr("width", 2030).attr("height", 1045).attr("fill", "#fff");

// what is left of Fig.3 at the top edge
[[333, 6], [820, 6], [1315, 10], [1805, 13]].forEach(function(d) {
  svg.append("text").attr("x", d[0]).attr("y", d[1]).attr("text-anchor", "middle").attr("font-size", "13px").text("Time: 2004/03");
});
[[1582, 19], [1693, 20], [1805, 21], [1917, 22], [2028, 23]].forEach(function(d) {
  svg.append("text").attr("x", d[0]).attr("y", 2).attr("text-anchor", "middle").attr("font-size", "13px").text(d[1]);
});

svg.append("text").attr("class", "caption").attr("x", 1061).attr("y", 49).attr("text-anchor", "middle")
    .attr("font-size", "22.4px").text("Fig.3. Comparison with measurements at Ekofisk");
svg.append("text").attr("class", "caption").attr("x", 1040).attr("y", 1121).attr("text-anchor", "middle")
    .attr("font-size", "22.4px").text("Fig.4. Comparision with measurements at Horns Rev");

var plus = d3.symbol().type(d3.symbolCross).size(15);

boxes.forEach(function(b, i) {
  var row = Math.floor(i / 4),
      days = rowDays[row],
      w = b[1] - b[0],
      h = b[3] - b[2],
      ticks = yTicks[i];

  var x = d3.scaleLinear().domain(d3.extent(days)).range([0, w]),
      y = d3.scaleLinear().domain(d3.extent(ticks)).range([h, 0]);

  var g = svg.append("g").attr("transform", "translate(" + b[0] + "," + b[2] + ")");

  var line = d3.line().curve(d3.curveMonotoneX).x(function(d) { return x(d[0]); }).y(function(d) { return y(d[1]); });

  g.selectAll(".measured")
    .data(pairs(measured[i]))
    .enter().append("path")
      .attr("d", plus)
      .attr("fill", "#000")
      .attr("transform", function(d) { return "translate(" + x(d[0]) + "," + y(d[1]) + ")"; });

  runs[i].forEach(function(run, k) {
    g.append("path")
      .datum(pairs(run))
      .attr("fill", "none")
      .attr("stroke", styles[k].color)
      .attr("stroke-width", styles[k].width)
      .attr("stroke-dasharray", styles[k].dash)
      .attr("stroke-linejoin", "round")
      .attr("d", line);
  });

  // box and inward ticks on all four sides
  var axes = [
    {a: d3.axisBottom(x).tickValues(days).tickFormat(d3.format("d")), t: [0, h]},
    {a: d3.axisTop(x).tickValues(days).tickFormat(""), t: [0, 0]},
    {a: d3.axisLeft(y).tickValues(ticks).tickFormat(function(d) { return d; }), t: [0, 0]},
    {a: d3.axisRight(y).tickValues(ticks).tickFormat(""), t: [w, 0]}
  ];
  axes.forEach(function(ax) {
    var ag = g.append("g")
      .attr("transform", "translate(" + ax.t[0] + "," + ax.t[1] + ")")
      .call(ax.a.tickSizeInner(-4).tickSizeOuter(0).tickPadding(4));
    ag.selectAll("path, line").attr("stroke", "#4a4a4a").attr("stroke-width", 1.2);
    ag.selectAll("text").attr("font-size", "13px").attr("font-family", "Liberation Serif").attr("fill", "#1c1c1c");
  });

  g.append("text")
    .attr("x", w / 2).attr("y", h + 25)
    .attr("text-anchor", "middle")
    .attr("font-size", "13px")
    .text(rowMonths[row]);

  // the source figure has these squashed along the page, so stretch across the baseline
  g.append("text")
    .attr("transform", "translate(" + yLabelOffset[i % 4] + "," + (h / 2) + ") rotate(-90) scale(1,1.2)")
    .attr("text-anchor", "middle")
    .attr("font-size", "11px")
    .attr("letter-spacing", "0.5px")
    .text(yLabels[i % 4]);

  // legend, no box and no background, sits over the data
  var lg = g.append("g").attr("transform", "translate(" + (w - 143) + "," + (h - 95) + ")");
  lg.append("path").attr("d", plus).attr("fill", "#000").attr("transform", "translate(-14,0)");
  legendLabels.forEach(function(label, k) {
    var ly = k * 13.8;
    lg.append("text").attr("x", 0).attr("y", ly + 4).attr("font-size", "12px").text(label);
    if (k > 0) {
      lg.append("line")
        .attr("x1", -26).attr("x2", -2).attr("y1", ly).attr("y2", ly)
        .attr("stroke", styles[k - 1].color)
        .attr("stroke-width", styles[k - 1].width)
        .attr("stroke-dasharray", styles[k - 1].dash);
    }
  });
});

// panel tags in the second column
[[615, 172, "(2)"], [617, 487, "(6)"], [613.5, 802, "(10)"]].forEach(function(d) {
  svg.append("text").attr("class", "tag").attr("x", d[0]).attr("y", d[1]).attr("text-anchor", "middle")
    .attr("font-size", "16px").style("fill", "#1d2b45").text(d[2]);
});
</script>
</body>
</html>
